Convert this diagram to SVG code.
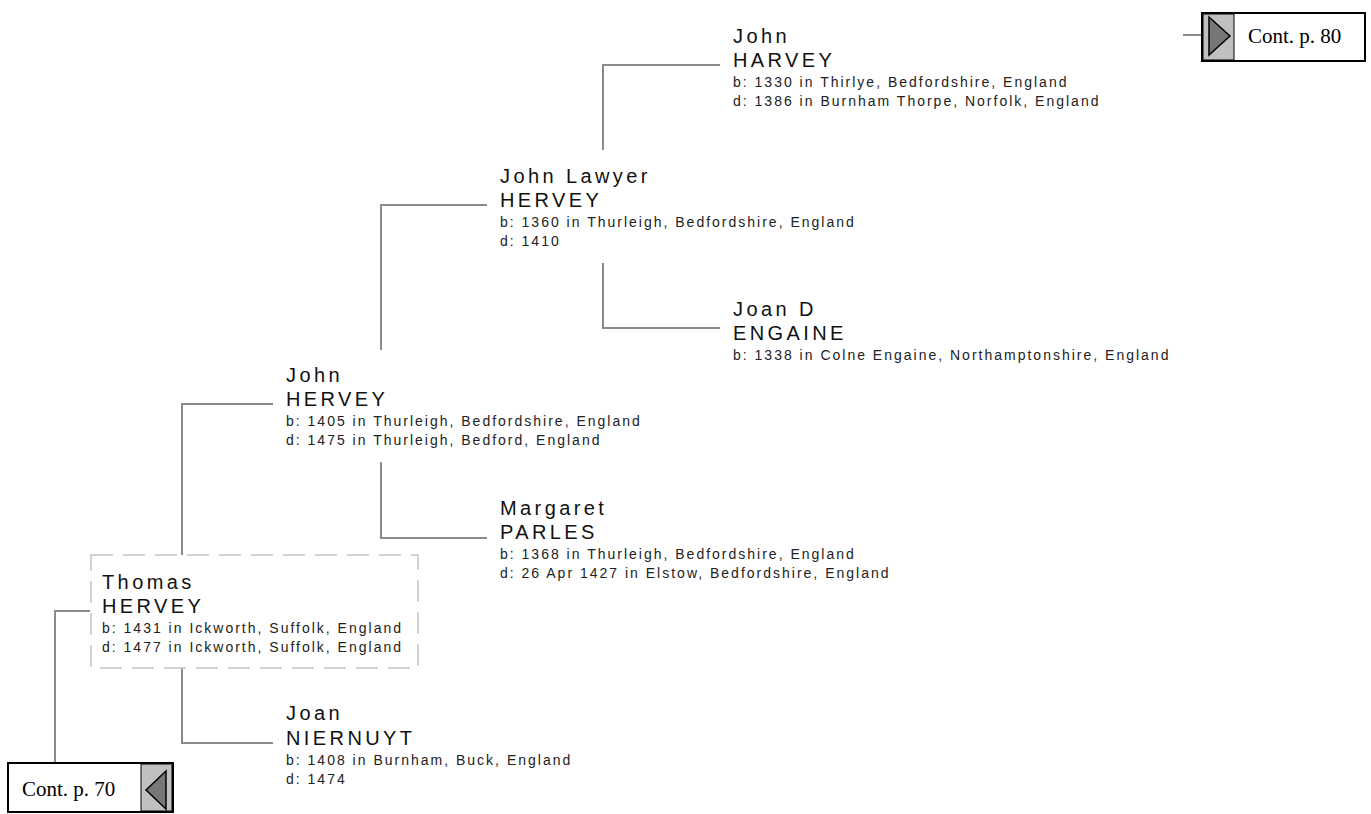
<svg xmlns="http://www.w3.org/2000/svg" width="1371" height="814" viewBox="0 0 1371 814">
<style>
.nm{font-family:"Liberation Sans",Arial,sans-serif;font-size:20px;letter-spacing:3.4px;fill:#111}
.dt{font-family:"Liberation Sans",Arial,sans-serif;font-size:14px;letter-spacing:2px;fill:#222}
.ln{stroke:#8a8a8a;stroke-width:2;fill:none}
.cont{font-family:"Liberation Serif","Times New Roman",serif;font-size:21px;fill:#000}
.cbox{fill:#fff;stroke:#000;stroke-width:2}
.cgray{fill:#c0c0c0;stroke:#000;stroke-width:1}
.tri{fill:#777;stroke:#000;stroke-width:1.5}
</style>
<rect width="1371" height="814" fill="#fff"/>
<g id="connectors">
<path class="ln" d="M1183 35 H1202"/>
<path class="ln" d="M603 150 V65 H720"/>
<path class="ln" d="M381 350 V205 H487"/>
<path class="ln" d="M603 263 V328 H720"/>
<path class="ln" d="M182 555 V404 H273"/>
<path class="ln" d="M381 462 V538 H487"/>
<path class="ln" d="M182 668 V743 H273"/>
<path class="ln" d="M90 611 H55 V763"/>
</g>
<g id="cont80">
<rect class="cbox" x="1202" y="13" width="163" height="48"/>
<rect class="cgray" x="1203" y="14" width="31" height="46"/>
<polygon class="tri" points="1209,17 1230,36 1209,55"/>
<text class="cont" x="1248" y="43">Cont. p. 80</text>
</g>
<g id="node-john-harvey">
<text class="nm" x="733" y="43">John</text>
<text class="nm" x="733" y="67">HARVEY</text>
<text class="dt" x="733" y="87">b: 1330 in Thirlye, Bedfordshire, England</text>
<text class="dt" x="733" y="106">d: 1386 in Burnham Thorpe, Norfolk, England</text>
</g>
<g id="node-john-lawyer-hervey">
<text class="nm" x="500" y="183">John Lawyer</text>
<text class="nm" x="500" y="207">HERVEY</text>
<text class="dt" x="500" y="227">b: 1360 in Thurleigh, Bedfordshire, England</text>
<text class="dt" x="500" y="246">d: 1410</text>
</g>
<g id="node-joan-d-engaine">
<text class="nm" x="733" y="316">Joan D</text>
<text class="nm" x="733" y="340">ENGAINE</text>
<text class="dt" x="733" y="360">b: 1338 in Colne Engaine, Northamptonshire, England</text>
</g>
<g id="node-john-hervey">
<text class="nm" x="286" y="382">John</text>
<text class="nm" x="286" y="406">HERVEY</text>
<text class="dt" x="286" y="426">b: 1405 in Thurleigh, Bedfordshire, England</text>
<text class="dt" x="286" y="445">d: 1475 in Thurleigh, Bedford, England</text>
</g>
<g id="node-margaret-parles">
<text class="nm" x="500" y="515">Margaret</text>
<text class="nm" x="500" y="539">PARLES</text>
<text class="dt" x="500" y="559">b: 1368 in Thurleigh, Bedfordshire, England</text>
<text class="dt" x="500" y="578">d: 26 Apr 1427 in Elstow, Bedfordshire, England</text>
</g>
<g id="node-thomas-hervey">
<rect x="91" y="555" width="327" height="113" fill="#fff" stroke="#c4c4c4" stroke-width="1.5" stroke-dasharray="22 10"/>
<text class="nm" x="102" y="589">Thomas</text>
<text class="nm" x="102" y="613">HERVEY</text>
<text class="dt" x="102" y="633">b: 1431 in Ickworth, Suffolk, England</text>
<text class="dt" x="102" y="652">d: 1477 in Ickworth, Suffolk, England</text>
</g>
<g id="node-joan-niernuyt">
<text class="nm" x="286" y="720">Joan</text>
<text class="nm" x="286" y="745">NIERNUYT</text>
<text class="dt" x="286" y="765">b: 1408 in Burnham, Buck, England</text>
<text class="dt" x="286" y="784">d: 1474</text>
</g>
<g id="cont70">
<rect class="cbox" x="8" y="763" width="165" height="49"/>
<rect class="cgray" x="141" y="764" width="31" height="47"/>
<polygon class="tri" points="166,771 146,790 166,809"/>
<text class="cont" x="22" y="796">Cont. p. 70</text>
</g>
</svg>
